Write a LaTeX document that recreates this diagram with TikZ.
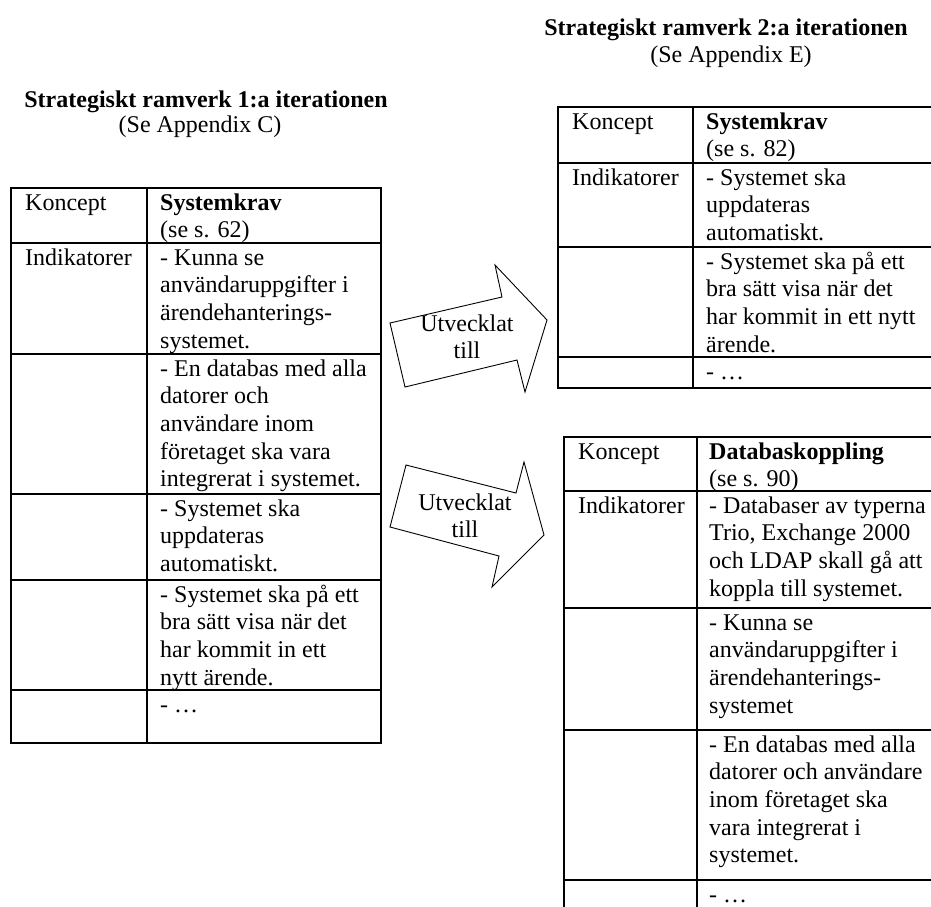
\documentclass[tikz,border=0pt]{standalone}
\usepackage{fontspec}
\setmainfont{Liberation Serif}
\usepackage{tikz}
\usetikzlibrary{positioning,calc}
\tikzset{cell/.style={anchor=north west,inner sep=0pt,align=left}}
\tikzset{tabline/.style={draw=black,line width=1.2pt}}
\tikzset{blockarrow/.style={draw=black,fill=white,line width=0.9pt,line join=miter}}

\begin{document}
\begin{tikzpicture}[x=1pt, y=-1pt, every node/.style={font=\fontsize{24}{27.6}\selectfont}]
        \tikzstyle{title}=[anchor=base,inner sep=0pt,font=\fontsize{24}{27.6}\selectfont\bfseries]
        \tikzstyle{subtitle}=[anchor=base,inner sep=0pt]
        \tikzstyle{arrowlabel}=[anchor=north,inner sep=0pt,align=center]
        \useasboundingbox (0,0) rectangle (931,906);
        \clip (0,0) rectangle (931,906);

        \node[title] (t1) at (206,107) {Strategiskt ramverk 1:a iterationen};
        \node[subtitle] (s1) at (200,132) {(Se Appendix C)};
        \node[title] (t2) at (726,35) {Strategiskt ramverk 2:a iterationen};
        \node[subtitle] (s2) at (731,62) {(Se Appendix E)};

        \draw[tabline] (11,188) rectangle (381,743);
        \draw[tabline] (147,188) -- (147,743);
        \foreach \y in {243,354,494,580,690}
            \draw[tabline] (11,\y) -- (381,\y);
        \node[cell] (a1) at (25,190.7) {\strut Koncept};
        \node[cell] (a2) at (160,190.7) {\strut\textbf{Systemkrav}\\(se s. 62)};
        \node[cell] (a3) at (25,245.7) {\strut Indikatorer};
        \node[cell] (a4) at (160,245.7) {\strut- Kunna se\\användaruppgifter i\\ärendehanterings-\\systemet.};
        \node[cell] (a5) at (160,356.7) {\strut- En databas med alla\\datorer och\\användare inom\\företaget ska vara\\integrerat i systemet.};
        \node[cell] (a6) at (160,496.7) {\strut- Systemet ska\\uppdateras\\automatiskt.};
        \node[cell] (a7) at (160,582.7) {\strut- Systemet ska på ett\\bra sätt visa när det\\har kommit in ett\\nytt ärende.};
        \node[cell] (a8) at (160,692.7) {\strut- …};

        \draw[tabline] (558,107) rectangle (960,388);
        \draw[tabline] (693,107) -- (693,388);
        \foreach \y in {163,247,357}
            \draw[tabline] (558,\y) -- (960,\y);
        \node[cell] (b1) at (572,109.7) {\strut Koncept};
        \node[cell] (b2) at (706,109.7) {\strut\textbf{Systemkrav}\\(se s. 82)};
        \node[cell] (b3) at (572,165.7) {\strut Indikatorer};
        \node[cell] (b4) at (706,165.7) {\strut- Systemet ska\\uppdateras\\automatiskt.};
        \node[cell] (b5) at (706,249.7) {\strut- Systemet ska på ett\\bra sätt visa när det\\har kommit in ett nytt\\ärende.};
        \node[cell] (b6) at (706,359.7) {\strut- …};

        \draw[tabline] (564,437) rectangle (960,960);
        \draw[tabline] (697,437) -- (697,960);
        \foreach \y in {491,608,730,880}
            \draw[tabline] (564,\y) -- (960,\y);
        \node[cell] (c1) at (578,439.7) {\strut Koncept};
        \node[cell] (c2) at (709,439.7) {\strut\textbf{Databaskoppling}\\(se s. 90)};
        \node[cell] (c3) at (578,493.7) {\strut Indikatorer};
        \node[cell] (c4) at (709,493.7) {\strut- Databaser av typerna\\Trio, Exchange 2000\\och LDAP skall gå att\\koppla till systemet.};
        \node[cell] (c5) at (709,610.7) {\strut- Kunna se\\användaruppgifter i\\ärendehanterings-\\systemet};
        \node[cell] (c6) at (709,732.7) {\strut- En databas med alla\\datorer och användare\\inom företaget ska\\vara integrerat i\\systemet.};
        \node[cell] (c7) at (709,882.7) {\strut- …};

        \draw[blockarrow] (390,323) -- (502,297) -- (495,265) -- (547,320) -- (525,392) -- (517,360) -- (405,387) -- cycle;
        \draw[blockarrow] (406,465) -- (516,493) -- (524,462) -- (544,535) -- (492,587) -- (499,556) -- (390,527) -- cycle;
        \node[arrowlabel] (u1) at (467,311.7) {\strut Utvecklat\\till};
        \node[arrowlabel] (u2) at (465,490.7) {\strut Utvecklat\\till};
\end{tikzpicture}
\end{document}
